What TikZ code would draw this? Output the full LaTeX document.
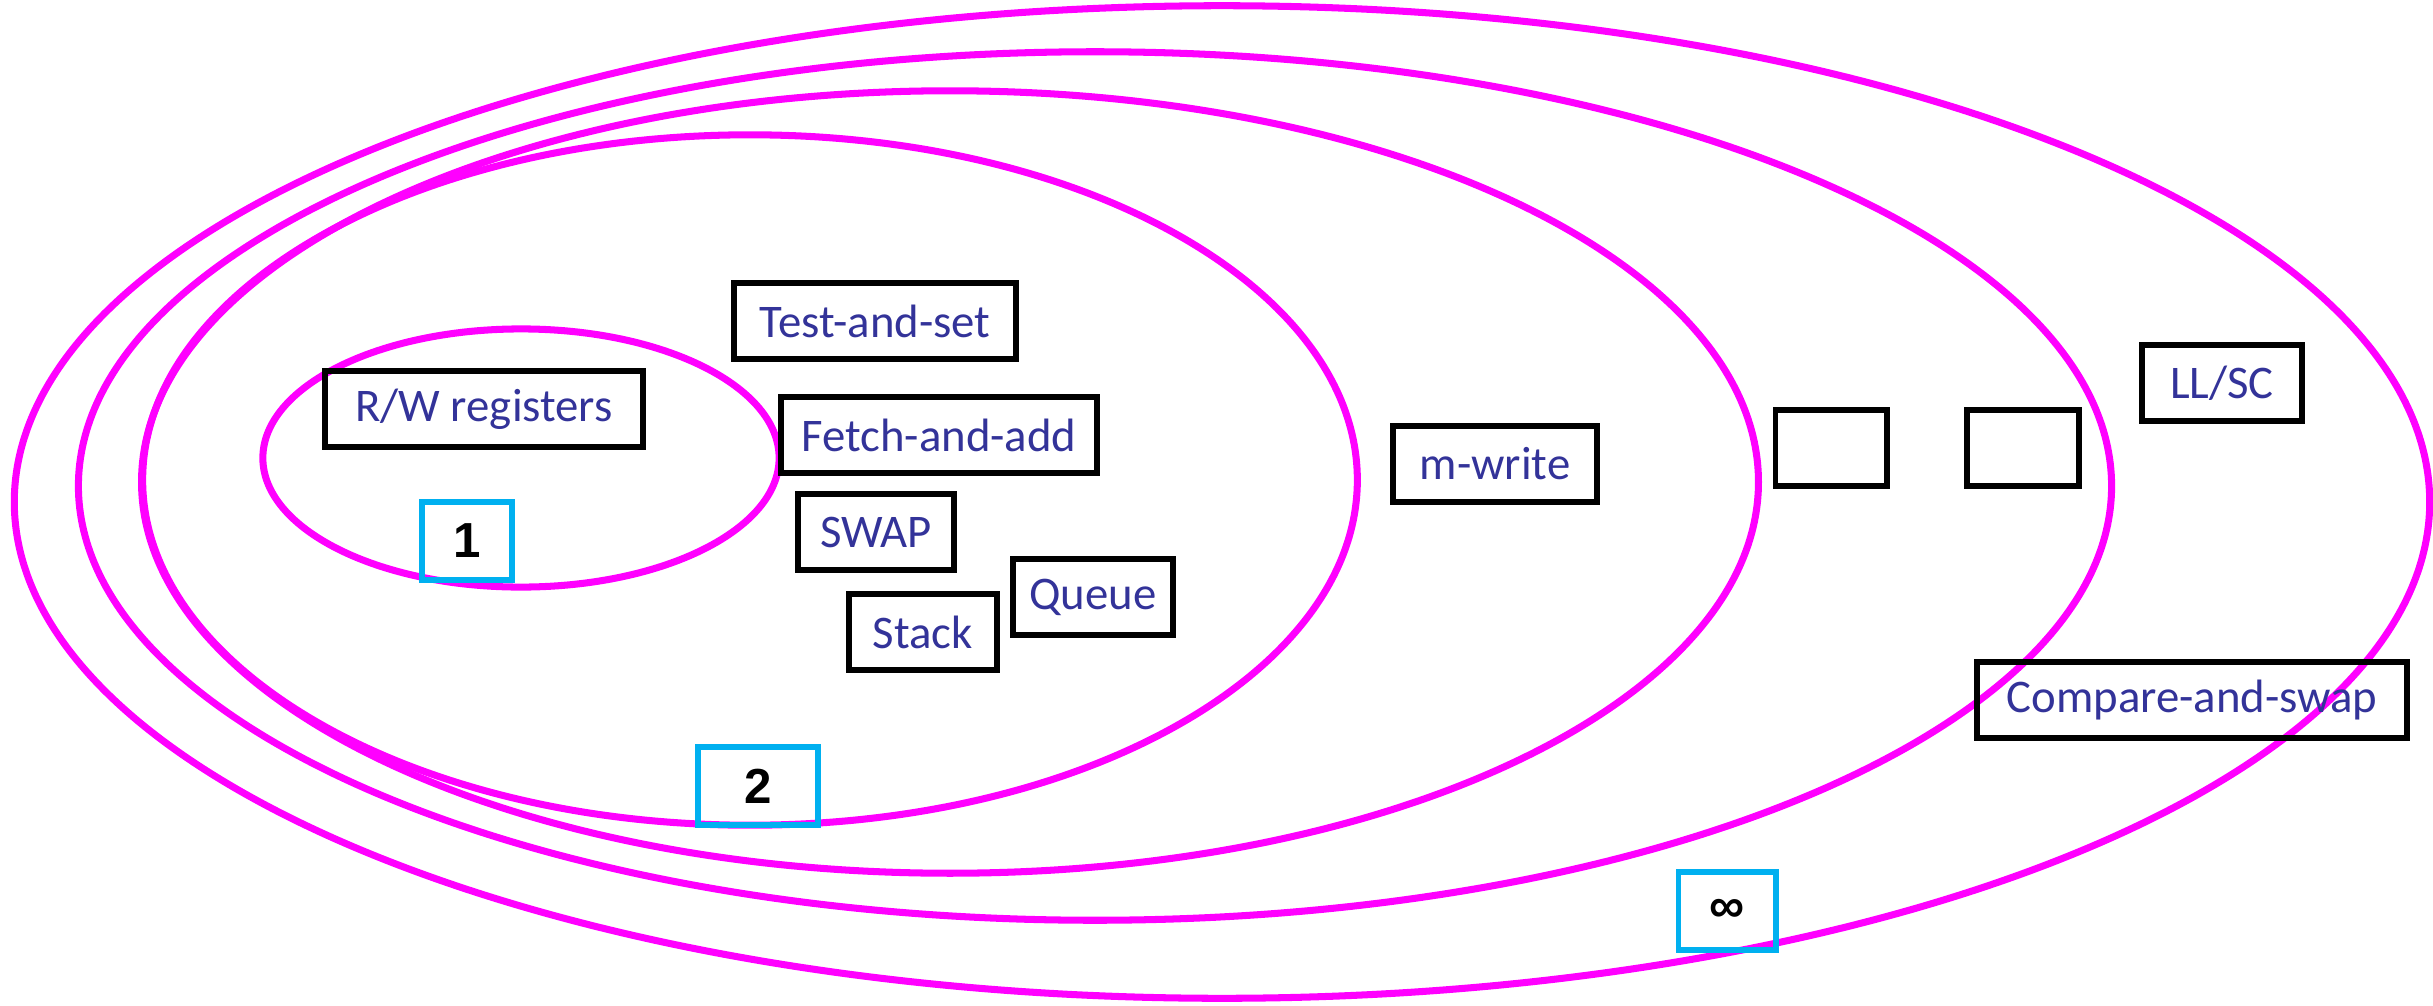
\documentclass[tikz,border=0pt]{standalone}
\usepackage{fontspec}
\setmainfont{Carlito}
\newfontfamily\numfont{Liberation Sans}
\usepackage{tikz}
\definecolor{ringpink}{RGB}{255,0,255}
\definecolor{levelblue}{RGB}{0,176,240}
\definecolor{opblue}{RGB}{51,51,153}

\begin{document}
\begin{tikzpicture}[x=0.01cm,y=-0.01cm,
  main node/.style={draw=black,line width=1.7pt,text=opblue,inner sep=0pt,
    font=\fontsize{13.3pt}{15pt}\selectfont,minimum height=0.76cm},
  level node/.style={draw=levelblue,line width=1.7pt,inner sep=0pt,
    font=\numfont\bfseries\fontsize{14pt}{16pt}\selectfont,minimum height=0.77cm},
  ring/.style={draw=ringpink,line width=2pt}]
  \useasboundingbox (0,0) rectangle (2433,1006);

  \draw[ring] (521,458) ellipse [x radius=2.58cm,y radius=1.29cm];
  \draw[ring] (750,480) ellipse [x radius=6.07cm,y radius=3.45cm];
  \draw[ring] (950,482) ellipse [x radius=8.08cm,y radius=3.91cm];
  \draw[ring] (1095,486) ellipse [x radius=10.16cm,y radius=4.34cm];
  \draw[ring] (1222,502) ellipse [x radius=12.07cm,y radius=4.96cm];

  \node[main node,minimum width=3.17cm] (1) at (484,409) {R/W registers};
  \node[main node,minimum width=2.81cm] (2) at (875,321) {Test-and-set};
  \node[main node,minimum width=3.16cm] (3) at (939,435) {Fetch-and-add};
  \node[main node,minimum width=1.56cm] (4) at (876,532) {SWAP};
  \node[main node,minimum width=1.47cm] (5) at (923,632) {Stack};
  \node[main node,minimum width=1.60cm] (6) at (1093,597) {Queue};
  \node[main node,minimum width=2.04cm] (7) at (1495,464) {m-write};
  \node[main node,minimum width=1.11cm] (8) at (1831,448) {};
  \node[main node,minimum width=1.12cm] (9) at (2023,448) {};
  \node[main node,minimum width=1.59cm] (10) at (2222,383) {LL/SC};
  \node[main node,minimum width=4.29cm] (11) at (2192,700) {Compare-and-swap};

  \node[level node,minimum width=0.89cm] (c1) at (467,541) {1};
  \node[level node,minimum width=1.19cm] (c2) at (758,786) {2};
  \node[level node,minimum width=0.97cm] (c3) at (1727,911) {∞};
\end{tikzpicture}
\end{document}
